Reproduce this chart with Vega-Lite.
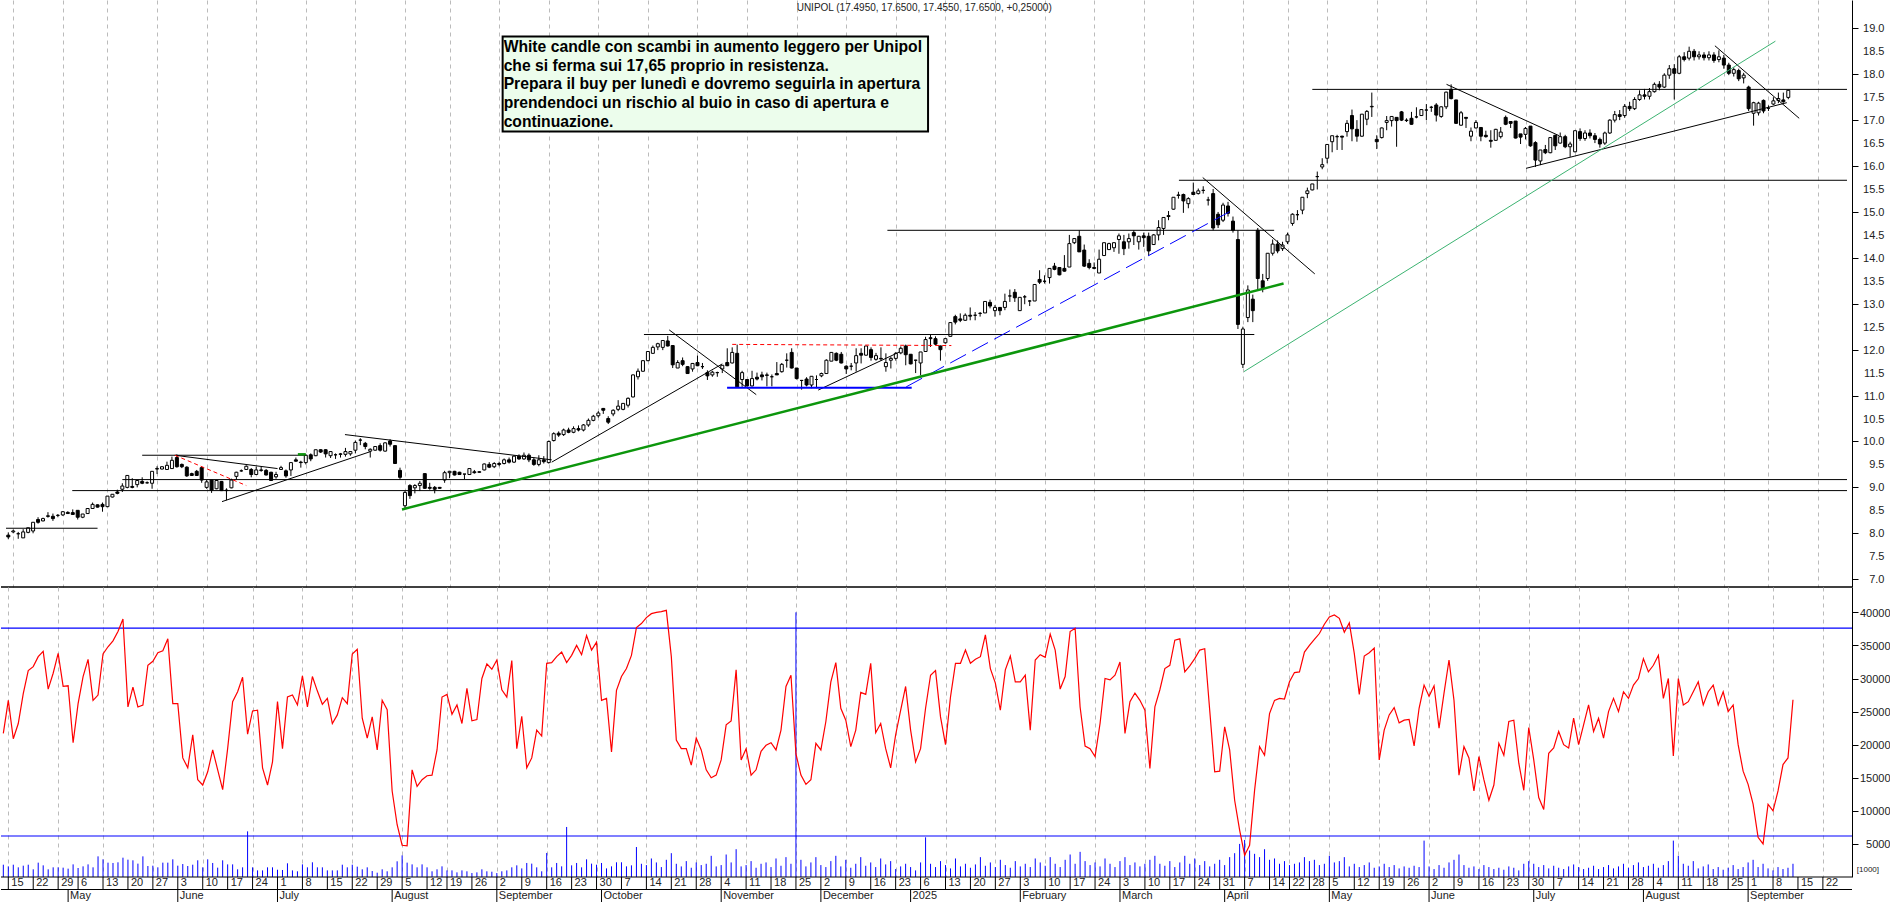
{
"$schema":"https://vega.github.io/schema/vega-lite/v6.json",
"background":"white",
"padding":0,
"spacing":0,
"bounds":"flush",
"config":{"view":{"stroke":null},"font":"Liberation Sans"},
"datasets":{
"bars":[
{"i":0,"o":7.96,"h":8.02,"l":7.87,"c":7.92,"r":21700,"v":1860},
{"i":1,"o":8.03,"h":8.08,"l":8.0,"c":8.05,"r":26700,"v":1610},
{"i":2,"o":7.99,"h":8.03,"l":7.88,"c":7.99,"r":20900,"v":1860},
{"i":3,"o":7.9,"h":8.09,"l":7.9,"c":8.03,"r":23200,"v":1460},
{"i":4,"o":8.02,"h":8.12,"l":8.0,"c":8.12,"r":27700,"v":1710},
{"i":5,"o":8.05,"h":8.24,"l":8.0,"c":8.24,"r":31200,"v":1860},
{"i":6,"o":8.3,"h":8.35,"l":8.21,"c":8.24,"r":31800,"v":1160},
{"i":7,"o":8.27,"h":8.34,"l":8.26,"c":8.32,"r":33300,"v":2170},
{"i":8,"o":8.38,"h":8.46,"l":8.34,"c":8.37,"r":34100,"v":1760},
{"i":9,"o":8.37,"h":8.43,"l":8.27,"c":8.32,"r":28400,"v":1160},
{"i":10,"o":8.39,"h":8.42,"l":8.35,"c":8.39,"r":30800,"v":1460},
{"i":11,"o":8.4,"h":8.48,"l":8.38,"c":8.47,"r":33800,"v":1460},
{"i":12,"o":8.455,"h":8.48,"l":8.42,"c":8.43,"r":28800,"v":1410},
{"i":13,"o":8.45,"h":8.52,"l":8.41,"c":8.41,"r":28900,"v":1260},
{"i":14,"o":8.5,"h":8.5,"l":8.3,"c":8.35,"r":20300,"v":1910},
{"i":15,"o":8.35,"h":8.42,"l":8.33,"c":8.42,"r":26200,"v":1360},
{"i":16,"o":8.43,"h":8.54,"l":8.42,"c":8.54,"r":30300,"v":1610},
{"i":17,"o":8.54,"h":8.67,"l":8.53,"c":8.63,"r":32900,"v":1910},
{"i":18,"o":8.62,"h":8.63,"l":8.56,"c":8.57,"r":26700,"v":1460},
{"i":19,"o":8.63,"h":8.67,"l":8.47,"c":8.58,"r":27500,"v":3120},
{"i":20,"o":8.58,"h":8.81,"l":8.57,"c":8.81,"r":33700,"v":2670},
{"i":21,"o":8.79,"h":8.85,"l":8.78,"c":8.85,"r":34800,"v":2170},
{"i":22,"o":8.9,"h":8.95,"l":8.85,"c":8.87,"r":35700,"v":2120},
{"i":23,"o":8.96,"h":9.09,"l":8.9,"c":9.03,"r":37100,"v":2220},
{"i":24,"o":9.0,"h":9.26,"l":8.98,"c":9.26,"r":39000,"v":2920},
{"i":25,"o":9.02,"h":9.2,"l":8.98,"c":9.0,"r":25700,"v":2620},
{"i":26,"o":9.06,"h":9.15,"l":9.0,"c":9.15,"r":28700,"v":2520},
{"i":27,"o":9.13,"h":9.22,"l":9.07,"c":9.09,"r":25700,"v":2020},
{"i":28,"o":9.1,"h":9.13,"l":9.08,"c":9.1,"r":26000,"v":3120},
{"i":29,"o":9.09,"h":9.35,"l":8.97,"c":9.35,"r":32000,"v":1660},
{"i":30,"o":9.4,"h":9.46,"l":9.29,"c":9.41,"r":32600,"v":1710},
{"i":31,"o":9.4,"h":9.46,"l":9.39,"c":9.45,"r":33900,"v":1460},
{"i":32,"o":9.39,"h":9.56,"l":9.39,"c":9.48,"r":34200,"v":2170},
{"i":33,"o":9.41,"h":9.67,"l":9.41,"c":9.59,"r":36000,"v":2170},
{"i":34,"o":9.65,"h":9.72,"l":9.43,"c":9.45,"r":26200,"v":2670},
{"i":35,"o":9.5,"h":9.52,"l":9.42,"c":9.45,"r":26200,"v":1710},
{"i":36,"o":9.44,"h":9.46,"l":9.23,"c":9.25,"r":18000,"v":1960},
{"i":37,"o":9.3,"h":9.32,"l":9.25,"c":9.26,"r":16500,"v":1660},
{"i":38,"o":9.35,"h":9.38,"l":9.25,"c":9.26,"r":21500,"v":1860},
{"i":39,"o":9.43,"h":9.43,"l":9.1,"c":9.16,"r":14700,"v":2520},
{"i":40,"o":9.0,"h":9.16,"l":8.97,"c":9.12,"r":13900,"v":1460},
{"i":41,"o":9.16,"h":9.16,"l":8.88,"c":8.94,"r":15900,"v":2670},
{"i":42,"o":8.97,"h":9.15,"l":8.96,"c":9.15,"r":19200,"v":2120},
{"i":43,"o":9.13,"h":9.14,"l":8.92,"c":8.93,"r":16200,"v":1410},
{"i":44,"o":8.94,"h":8.98,"l":8.72,"c":8.93,"r":13200,"v":2520},
{"i":45,"o":8.99,"h":9.19,"l":8.98,"c":9.16,"r":19400,"v":1910},
{"i":46,"o":9.24,"h":9.34,"l":9.17,"c":9.33,"r":26500,"v":1910},
{"i":47,"o":9.36,"h":9.39,"l":9.34,"c":9.36,"r":28000,"v":1160},
{"i":48,"o":9.39,"h":9.48,"l":9.38,"c":9.46,"r":30200,"v":1460},
{"i":49,"o":9.39,"h":9.42,"l":9.22,"c":9.28,"r":21600,"v":6900},
{"i":50,"o":9.28,"h":9.45,"l":9.27,"c":9.38,"r":25100,"v":1460},
{"i":51,"o":9.38,"h":9.45,"l":9.34,"c":9.37,"r":25200,"v":1000},
{"i":52,"o":9.37,"h":9.4,"l":9.26,"c":9.27,"r":16500,"v":1000},
{"i":53,"o":9.33,"h":9.34,"l":9.14,"c":9.15,"r":13900,"v":1460},
{"i":54,"o":9.23,"h":9.34,"l":9.19,"c":9.28,"r":17400,"v":1460},
{"i":55,"o":9.39,"h":9.47,"l":9.38,"c":9.43,"r":26500,"v":1100},
{"i":56,"o":9.36,"h":9.39,"l":9.21,"c":9.25,"r":19400,"v":1060},
{"i":57,"o":9.38,"h":9.54,"l":9.25,"c":9.54,"r":27200,"v":2070},
{"i":58,"o":9.6,"h":9.65,"l":9.56,"c":9.57,"r":27500,"v":1000},
{"i":59,"o":9.55,"h":9.58,"l":9.43,"c":9.54,"r":26000,"v":860},
{"i":60,"o":9.54,"h":9.72,"l":9.5,"c":9.7,"r":30400,"v":1910},
{"i":61,"o":9.71,"h":9.74,"l":9.57,"c":9.62,"r":25700,"v":1460},
{"i":62,"o":9.69,"h":9.82,"l":9.68,"c":9.82,"r":30300,"v":2220},
{"i":63,"o":9.82,"h":9.83,"l":9.75,"c":9.77,"r":28100,"v":1460},
{"i":64,"o":9.82,"h":9.83,"l":9.65,"c":9.73,"r":26100,"v":1460},
{"i":65,"o":9.69,"h":9.79,"l":9.64,"c":9.78,"r":27000,"v":1000},
{"i":66,"o":9.71,"h":9.74,"l":9.62,"c":9.71,"r":23200,"v":1000},
{"i":67,"o":9.72,"h":9.75,"l":9.65,"c":9.73,"r":24500,"v":1000},
{"i":68,"o":9.72,"h":9.86,"l":9.67,"c":9.78,"r":27100,"v":1860},
{"i":69,"o":9.73,"h":9.79,"l":9.69,"c":9.78,"r":26200,"v":1460},
{"i":70,"o":9.81,"h":10.02,"l":9.74,"c":9.98,"r":33700,"v":1860},
{"i":71,"o":10.03,"h":10.07,"l":9.92,"c":10.03,"r":34400,"v":1560},
{"i":72,"o":9.96,"h":9.99,"l":9.83,"c":9.89,"r":24000,"v":1160},
{"i":73,"o":9.79,"h":9.85,"l":9.65,"c":9.83,"r":21000,"v":1460},
{"i":74,"o":9.81,"h":9.89,"l":9.8,"c":9.89,"r":24200,"v":900},
{"i":75,"o":9.91,"h":9.96,"l":9.78,"c":9.81,"r":19200,"v":650},
{"i":76,"o":9.79,"h":9.98,"l":9.78,"c":9.97,"r":26700,"v":1160},
{"i":77,"o":10.01,"h":10.05,"l":9.89,"c":9.94,"r":25300,"v":860},
{"i":78,"o":9.91,"h":9.91,"l":9.52,"c":9.52,"r":13000,"v":1460},
{"i":79,"o":9.37,"h":9.43,"l":9.17,"c":9.22,"r":7900,"v":2370},
{"i":80,"o":8.6,"h":8.92,"l":8.54,"c":8.89,"r":4800,"v":3270},
{"i":81,"o":9.04,"h":9.07,"l":8.75,"c":8.82,"r":4700,"v":2170},
{"i":82,"o":8.99,"h":9.07,"l":8.87,"c":9.04,"r":16200,"v":1910},
{"i":83,"o":9.04,"h":9.14,"l":8.92,"c":9.09,"r":13700,"v":1460},
{"i":84,"o":9.3,"h":9.3,"l":8.97,"c":8.98,"r":14700,"v":1910},
{"i":85,"o":9.0,"h":9.1,"l":8.95,"c":8.98,"r":15300,"v":1460},
{"i":86,"o":9.0,"h":9.03,"l":8.87,"c":8.96,"r":15400,"v":860},
{"i":87,"o":9.0,"h":9.01,"l":8.97,"c":8.98,"r":19200,"v":1160},
{"i":88,"o":9.16,"h":9.36,"l":9.1,"c":9.32,"r":27200,"v":1610},
{"i":89,"o":9.32,"h":9.36,"l":9.2,"c":9.35,"r":27600,"v":1000},
{"i":90,"o":9.35,"h":9.36,"l":9.26,"c":9.27,"r":24600,"v":1000},
{"i":91,"o":9.33,"h":9.34,"l":9.27,"c":9.28,"r":26000,"v":700},
{"i":92,"o":9.29,"h":9.29,"l":9.18,"c":9.29,"r":23200,"v":1000},
{"i":93,"o":9.28,"h":9.41,"l":9.28,"c":9.41,"r":28500,"v":860},
{"i":94,"o":9.34,"h":9.38,"l":9.3,"c":9.32,"r":23600,"v":600},
{"i":95,"o":9.34,"h":9.35,"l":9.32,"c":9.33,"r":23800,"v":700},
{"i":96,"o":9.38,"h":9.52,"l":9.37,"c":9.51,"r":30000,"v":1160},
{"i":97,"o":9.5,"h":9.55,"l":9.42,"c":9.44,"r":32200,"v":860},
{"i":98,"o":9.45,"h":9.55,"l":9.42,"c":9.52,"r":31400,"v":800},
{"i":99,"o":9.52,"h":9.56,"l":9.46,"c":9.5,"r":32800,"v":600},
{"i":100,"o":9.52,"h":9.63,"l":9.5,"c":9.6,"r":28300,"v":860},
{"i":101,"o":9.6,"h":9.65,"l":9.52,"c":9.55,"r":27200,"v":1000},
{"i":102,"o":9.55,"h":9.7,"l":9.53,"c":9.68,"r":32700,"v":1460},
{"i":103,"o":9.68,"h":9.72,"l":9.6,"c":9.62,"r":19400,"v":1760},
{"i":104,"o":9.62,"h":9.76,"l":9.6,"c":9.7,"r":24300,"v":1300},
{"i":105,"o":9.7,"h":9.74,"l":9.55,"c":9.6,"r":16500,"v":2120},
{"i":106,"o":9.6,"h":9.65,"l":9.47,"c":9.5,"r":18000,"v":2020},
{"i":107,"o":9.5,"h":9.7,"l":9.46,"c":9.6,"r":22200,"v":1460},
{"i":108,"o":9.6,"h":9.68,"l":9.52,"c":9.56,"r":21300,"v":860},
{"i":109,"o":9.54,"h":10.02,"l":9.52,"c":10.0,"r":32300,"v":3630},
{"i":110,"o":10.02,"h":10.2,"l":10.0,"c":10.17,"r":32400,"v":1460},
{"i":111,"o":10.18,"h":10.22,"l":10.1,"c":10.14,"r":33300,"v":2120},
{"i":112,"o":10.15,"h":10.28,"l":10.12,"c":10.25,"r":34000,"v":1610},
{"i":113,"o":10.25,"h":10.3,"l":10.18,"c":10.2,"r":32400,"v":7560},
{"i":114,"o":10.2,"h":10.33,"l":10.18,"c":10.28,"r":33500,"v":1760},
{"i":115,"o":10.28,"h":10.35,"l":10.22,"c":10.25,"r":35000,"v":2120},
{"i":116,"o":10.25,"h":10.38,"l":10.22,"c":10.36,"r":33600,"v":1460},
{"i":117,"o":10.36,"h":10.5,"l":10.32,"c":10.46,"r":36500,"v":2670},
{"i":118,"o":10.46,"h":10.58,"l":10.44,"c":10.55,"r":34300,"v":2020},
{"i":119,"o":10.56,"h":10.66,"l":10.52,"c":10.62,"r":35500,"v":1860},
{"i":120,"o":10.72,"h":10.73,"l":10.6,"c":10.68,"r":26700,"v":2120},
{"i":121,"o":10.5,"h":10.55,"l":10.38,"c":10.42,"r":27000,"v":1300},
{"i":122,"o":10.6,"h":10.7,"l":10.55,"c":10.68,"r":18900,"v":1610},
{"i":123,"o":10.7,"h":10.9,"l":10.66,"c":10.77,"r":28200,"v":2220},
{"i":124,"o":10.7,"h":10.83,"l":10.68,"c":10.83,"r":30300,"v":2220},
{"i":125,"o":10.79,"h":10.96,"l":10.74,"c":10.94,"r":31500,"v":1610},
{"i":126,"o":10.97,"h":11.46,"l":10.96,"c":11.45,"r":33500,"v":1760},
{"i":127,"o":11.41,"h":11.59,"l":11.35,"c":11.53,"r":37700,"v":4530},
{"i":128,"o":11.53,"h":11.77,"l":11.52,"c":11.76,"r":38300,"v":2000},
{"i":129,"o":11.76,"h":11.96,"l":11.75,"c":11.96,"r":39200,"v":1800},
{"i":130,"o":11.92,"h":12.09,"l":11.91,"c":12.05,"r":39800,"v":2800},
{"i":131,"o":12.06,"h":12.15,"l":11.99,"c":12.13,"r":40000,"v":2200},
{"i":132,"o":12.05,"h":12.2,"l":11.99,"c":12.2,"r":40100,"v":1500},
{"i":133,"o":12.19,"h":12.3,"l":12.07,"c":12.08,"r":40300,"v":2600},
{"i":134,"o":12.09,"h":12.09,"l":11.6,"c":11.67,"r":33300,"v":3600},
{"i":135,"o":11.6,"h":11.77,"l":11.6,"c":11.72,"r":20700,"v":2000},
{"i":136,"o":11.76,"h":11.83,"l":11.64,"c":11.68,"r":19400,"v":1600},
{"i":137,"o":11.63,"h":11.64,"l":11.47,"c":11.48,"r":19400,"v":2400},
{"i":138,"o":11.58,"h":11.71,"l":11.52,"c":11.7,"r":16900,"v":1400},
{"i":139,"o":11.72,"h":11.87,"l":11.64,"c":11.65,"r":21000,"v":2200},
{"i":140,"o":11.63,"h":11.71,"l":11.58,"c":11.63,"r":19200,"v":1800},
{"i":141,"o":11.5,"h":11.55,"l":11.34,"c":11.43,"r":16200,"v":2000},
{"i":142,"o":11.45,"h":11.54,"l":11.41,"c":11.51,"r":15000,"v":3200},
{"i":143,"o":11.5,"h":11.52,"l":11.41,"c":11.5,"r":15400,"v":1600},
{"i":144,"o":11.58,"h":11.66,"l":11.49,"c":11.66,"r":17700,"v":1800},
{"i":145,"o":11.72,"h":12.03,"l":11.64,"c":11.65,"r":23000,"v":3400},
{"i":146,"o":11.71,"h":12.05,"l":11.7,"c":11.94,"r":23600,"v":2200},
{"i":147,"o":11.92,"h":12.11,"l":11.19,"c":11.19,"r":31300,"v":4200},
{"i":148,"o":11.35,"h":11.54,"l":11.19,"c":11.5,"r":17700,"v":1600},
{"i":149,"o":11.35,"h":11.35,"l":11.2,"c":11.21,"r":19400,"v":1800},
{"i":150,"o":11.21,"h":11.54,"l":11.2,"c":11.37,"r":15400,"v":2400},
{"i":151,"o":11.4,"h":11.5,"l":11.33,"c":11.36,"r":16200,"v":1400},
{"i":152,"o":11.45,"h":11.52,"l":11.33,"c":11.41,"r":19000,"v":2000},
{"i":153,"o":11.45,"h":11.5,"l":11.2,"c":11.44,"r":19900,"v":2200},
{"i":154,"o":11.41,"h":11.46,"l":11.2,"c":11.41,"r":20300,"v":1500},
{"i":155,"o":11.48,"h":11.73,"l":11.45,"c":11.45,"r":19200,"v":2800},
{"i":156,"o":11.52,"h":11.71,"l":11.5,"c":11.68,"r":22200,"v":1700},
{"i":157,"o":11.77,"h":11.92,"l":11.61,"c":11.77,"r":28800,"v":3000},
{"i":158,"o":11.94,"h":12.03,"l":11.59,"c":11.6,"r":30500,"v":2000},
{"i":159,"o":11.6,"h":11.6,"l":11.35,"c":11.37,"r":18600,"v":40000},
{"i":160,"o":11.33,"h":11.34,"l":11.13,"c":11.33,"r":15400,"v":2600},
{"i":161,"o":11.36,"h":11.4,"l":11.2,"c":11.23,"r":14000,"v":1600},
{"i":162,"o":11.23,"h":11.42,"l":11.16,"c":11.42,"r":14700,"v":2200},
{"i":163,"o":11.35,"h":11.44,"l":11.16,"c":11.35,"r":20200,"v":3000},
{"i":164,"o":11.43,"h":11.5,"l":11.4,"c":11.48,"r":19200,"v":1800},
{"i":165,"o":11.48,"h":11.79,"l":11.47,"c":11.77,"r":23500,"v":1500},
{"i":166,"o":11.75,"h":11.94,"l":11.75,"c":11.94,"r":29500,"v":2400},
{"i":167,"o":11.92,"h":11.94,"l":11.75,"c":11.77,"r":32400,"v":3200},
{"i":168,"o":11.9,"h":11.95,"l":11.7,"c":11.71,"r":25500,"v":1600},
{"i":169,"o":11.64,"h":11.66,"l":11.47,"c":11.58,"r":23700,"v":2600},
{"i":170,"o":11.64,"h":11.71,"l":11.55,"c":11.64,"r":19700,"v":1400},
{"i":171,"o":11.71,"h":12.03,"l":11.52,"c":11.87,"r":22200,"v":2000},
{"i":172,"o":11.92,"h":12.03,"l":11.7,"c":11.88,"r":27900,"v":3000},
{"i":173,"o":11.88,"h":12.08,"l":11.87,"c":12.08,"r":27600,"v":1700},
{"i":174,"o":12.0,"h":12.05,"l":11.76,"c":11.83,"r":32300,"v":2200},
{"i":175,"o":11.79,"h":11.93,"l":11.76,"c":11.87,"r":21800,"v":1500},
{"i":176,"o":11.81,"h":12.05,"l":11.76,"c":11.8,"r":23200,"v":2800},
{"i":177,"o":11.63,"h":11.92,"l":11.52,"c":11.72,"r":19400,"v":1900},
{"i":178,"o":11.77,"h":11.85,"l":11.59,"c":11.81,"r":16500,"v":2400},
{"i":179,"o":11.81,"h":11.95,"l":11.76,"c":11.92,"r":21500,"v":1200},
{"i":180,"o":11.93,"h":12.07,"l":11.9,"c":12.03,"r":25200,"v":1600},
{"i":181,"o":12.08,"h":12.11,"l":11.66,"c":11.89,"r":28800,"v":2000},
{"i":182,"o":11.9,"h":11.9,"l":11.68,"c":11.69,"r":22200,"v":1500},
{"i":183,"o":11.77,"h":11.78,"l":11.49,"c":11.77,"r":17400,"v":1000},
{"i":184,"o":11.71,"h":11.95,"l":11.44,"c":11.95,"r":19400,"v":2200},
{"i":185,"o":11.96,"h":12.28,"l":11.95,"c":12.22,"r":25500,"v":6000},
{"i":186,"o":12.26,"h":12.32,"l":12.06,"c":12.24,"r":30500,"v":2000},
{"i":187,"o":12.24,"h":12.29,"l":12.1,"c":12.12,"r":31200,"v":1500},
{"i":188,"o":12.08,"h":12.09,"l":11.76,"c":12.0,"r":24200,"v":2400},
{"i":189,"o":12.15,"h":12.24,"l":12.13,"c":12.24,"r":20000,"v":1800},
{"i":190,"o":12.29,"h":12.6,"l":12.29,"c":12.59,"r":27200,"v":1300},
{"i":191,"o":12.72,"h":12.76,"l":12.55,"c":12.6,"r":32300,"v":2800},
{"i":192,"o":12.67,"h":12.79,"l":12.6,"c":12.64,"r":32300,"v":1600},
{"i":193,"o":12.64,"h":12.79,"l":12.63,"c":12.75,"r":34300,"v":2000},
{"i":194,"o":12.75,"h":12.92,"l":12.64,"c":12.73,"r":32300,"v":1400},
{"i":195,"o":12.75,"h":12.82,"l":12.64,"c":12.75,"r":32900,"v":1900},
{"i":196,"o":12.79,"h":12.82,"l":12.72,"c":12.79,"r":33300,"v":3000},
{"i":197,"o":12.8,"h":13.05,"l":12.8,"c":13.05,"r":36600,"v":1700},
{"i":198,"o":13.03,"h":13.09,"l":12.9,"c":12.95,"r":31500,"v":2200},
{"i":199,"o":12.85,"h":12.97,"l":12.72,"c":12.92,"r":29300,"v":1500},
{"i":200,"o":12.92,"h":12.93,"l":12.75,"c":12.85,"r":25200,"v":2600},
{"i":201,"o":12.92,"h":13.22,"l":12.86,"c":13.05,"r":31300,"v":1800},
{"i":202,"o":13.17,"h":13.31,"l":13.04,"c":13.17,"r":33400,"v":1400},
{"i":203,"o":13.25,"h":13.32,"l":13.04,"c":13.13,"r":29500,"v":2400},
{"i":204,"o":12.85,"h":13.14,"l":12.85,"c":13.14,"r":29500,"v":1600},
{"i":205,"o":13.15,"h":13.19,"l":12.99,"c":13.15,"r":30500,"v":2000},
{"i":206,"o":13.06,"h":13.08,"l":12.95,"c":13.06,"r":22200,"v":1500},
{"i":207,"o":13.06,"h":13.43,"l":13.06,"c":13.42,"r":32800,"v":2800},
{"i":208,"o":13.53,"h":13.73,"l":13.43,"c":13.47,"r":33600,"v":2200},
{"i":209,"o":13.49,"h":13.62,"l":13.44,"c":13.49,"r":33200,"v":1700},
{"i":210,"o":13.57,"h":13.77,"l":13.44,"c":13.77,"r":36700,"v":3000},
{"i":211,"o":13.82,"h":13.89,"l":13.73,"c":13.75,"r":34300,"v":2000},
{"i":212,"o":13.79,"h":13.8,"l":13.62,"c":13.63,"r":28400,"v":1500},
{"i":213,"o":13.77,"h":14.06,"l":13.7,"c":13.71,"r":30300,"v":2600},
{"i":214,"o":13.8,"h":14.5,"l":13.8,"c":14.31,"r":37100,"v":3400},
{"i":215,"o":14.33,"h":14.43,"l":14.3,"c":14.42,"r":37600,"v":2000},
{"i":216,"o":14.47,"h":14.6,"l":14.13,"c":14.13,"r":25700,"v":3800},
{"i":217,"o":14.17,"h":14.29,"l":13.8,"c":13.82,"r":19800,"v":2400},
{"i":218,"o":13.88,"h":13.97,"l":13.75,"c":13.79,"r":19400,"v":1800},
{"i":219,"o":13.79,"h":13.9,"l":13.75,"c":13.77,"r":18200,"v":2200},
{"i":220,"o":13.67,"h":14.18,"l":13.67,"c":13.97,"r":23200,"v":1600},
{"i":221,"o":14.05,"h":14.33,"l":14.04,"c":14.33,"r":30000,"v":2800},
{"i":222,"o":14.18,"h":14.33,"l":14.17,"c":14.31,"r":29800,"v":2000},
{"i":223,"o":14.22,"h":14.34,"l":14.13,"c":14.33,"r":30500,"v":1500},
{"i":224,"o":14.4,"h":14.53,"l":14.09,"c":14.48,"r":32500,"v":2400},
{"i":225,"o":14.35,"h":14.5,"l":14.06,"c":14.2,"r":21700,"v":3000},
{"i":226,"o":14.35,"h":14.53,"l":14.2,"c":14.42,"r":26500,"v":1800},
{"i":227,"o":14.55,"h":14.6,"l":14.28,"c":14.48,"r":27800,"v":2200},
{"i":228,"o":14.35,"h":14.48,"l":14.18,"c":14.47,"r":26700,"v":1600},
{"i":229,"o":14.48,"h":14.55,"l":14.24,"c":14.44,"r":25200,"v":2000},
{"i":230,"o":14.47,"h":14.55,"l":14.05,"c":14.15,"r":16400,"v":2600},
{"i":231,"o":14.29,"h":14.52,"l":14.28,"c":14.5,"r":25700,"v":3200},
{"i":232,"o":14.5,"h":14.82,"l":14.38,"c":14.66,"r":28300,"v":2000},
{"i":233,"o":14.64,"h":14.88,"l":14.5,"c":14.88,"r":31500,"v":1700},
{"i":234,"o":14.9,"h":15.02,"l":14.82,"c":14.92,"r":32000,"v":2400},
{"i":235,"o":15.06,"h":15.32,"l":15.05,"c":15.32,"r":35800,"v":1500},
{"i":236,"o":15.36,"h":15.44,"l":15.29,"c":15.37,"r":36000,"v":2200},
{"i":237,"o":15.38,"h":15.4,"l":14.98,"c":15.24,"r":31000,"v":3200},
{"i":238,"o":15.18,"h":15.32,"l":15.08,"c":15.29,"r":31900,"v":2000},
{"i":239,"o":15.43,"h":15.64,"l":15.38,"c":15.38,"r":33000,"v":2800},
{"i":240,"o":15.4,"h":15.51,"l":15.38,"c":15.46,"r":34300,"v":1800},
{"i":241,"o":15.47,"h":15.56,"l":15.4,"c":15.47,"r":34500,"v":2400},
{"i":242,"o":15.26,"h":15.33,"l":15.14,"c":15.26,"r":25200,"v":1600},
{"i":243,"o":15.4,"h":15.5,"l":14.6,"c":14.65,"r":15900,"v":2000},
{"i":244,"o":14.95,"h":15.0,"l":14.65,"c":14.72,"r":16000,"v":2600},
{"i":245,"o":14.82,"h":15.2,"l":14.78,"c":15.15,"r":22700,"v":1800},
{"i":246,"o":15.13,"h":15.22,"l":14.9,"c":14.97,"r":19200,"v":3000},
{"i":247,"o":14.8,"h":14.9,"l":14.55,"c":14.6,"r":11600,"v":3600},
{"i":248,"o":14.4,"h":14.6,"l":12.45,"c":12.55,"r":7100,"v":5000},
{"i":249,"o":11.68,"h":12.5,"l":11.6,"c":12.45,"r":3300,"v":5600},
{"i":250,"o":12.7,"h":13.4,"l":12.6,"c":13.3,"r":4800,"v":4000},
{"i":251,"o":13.1,"h":13.2,"l":12.6,"c":12.85,"r":13100,"v":3500},
{"i":252,"o":14.6,"h":14.65,"l":13.3,"c":13.55,"r":19700,"v":3000},
{"i":253,"o":13.5,"h":13.65,"l":13.25,"c":13.35,"r":18400,"v":4200},
{"i":254,"o":13.55,"h":14.1,"l":13.5,"c":14.1,"r":24700,"v":2600},
{"i":255,"o":14.1,"h":14.4,"l":14.05,"c":14.3,"r":26700,"v":2800},
{"i":256,"o":14.3,"h":14.38,"l":14.1,"c":14.15,"r":27000,"v":2000},
{"i":257,"o":14.2,"h":14.35,"l":14.15,"c":14.28,"r":26900,"v":2400},
{"i":258,"o":14.35,"h":14.55,"l":14.3,"c":14.5,"r":29500,"v":1800},
{"i":259,"o":14.75,"h":14.97,"l":14.7,"c":14.95,"r":30900,"v":2000},
{"i":260,"o":14.94,"h":15.04,"l":14.82,"c":14.94,"r":31000,"v":2200},
{"i":261,"o":15.04,"h":15.32,"l":14.95,"c":15.32,"r":34000,"v":3000},
{"i":262,"o":15.4,"h":15.53,"l":15.3,"c":15.46,"r":35000,"v":2400},
{"i":263,"o":15.48,"h":15.61,"l":15.47,"c":15.61,"r":35900,"v":2600},
{"i":264,"o":15.77,"h":15.88,"l":15.49,"c":15.77,"r":36800,"v":1800},
{"i":265,"o":15.98,"h":16.17,"l":15.93,"c":16.03,"r":38200,"v":2000},
{"i":266,"o":16.17,"h":16.47,"l":16.06,"c":16.47,"r":39300,"v":3200},
{"i":267,"o":16.53,"h":16.66,"l":16.3,"c":16.66,"r":39600,"v":2200},
{"i":268,"o":16.64,"h":16.68,"l":16.35,"c":16.64,"r":39100,"v":2400},
{"i":269,"o":16.65,"h":16.66,"l":16.35,"c":16.63,"r":37000,"v":3000},
{"i":270,"o":16.75,"h":17.0,"l":16.64,"c":16.93,"r":38400,"v":1600},
{"i":271,"o":17.1,"h":17.23,"l":16.54,"c":16.81,"r":33800,"v":2000},
{"i":272,"o":16.8,"h":17.0,"l":16.53,"c":16.65,"r":27600,"v":1500},
{"i":273,"o":16.65,"h":17.13,"l":16.64,"c":17.13,"r":33400,"v":1800},
{"i":274,"o":17.02,"h":17.22,"l":16.89,"c":17.19,"r":33900,"v":2200},
{"i":275,"o":17.29,"h":17.6,"l":17.07,"c":17.3,"r":34600,"v":1400},
{"i":276,"o":16.58,"h":16.67,"l":16.37,"c":16.53,"r":17700,"v":1600},
{"i":277,"o":16.62,"h":16.84,"l":16.6,"c":16.83,"r":22200,"v":2000},
{"i":278,"o":16.95,"h":17.09,"l":16.78,"c":16.99,"r":24500,"v":1500},
{"i":279,"o":16.99,"h":17.08,"l":16.86,"c":17.08,"r":25600,"v":1800},
{"i":280,"o":17.06,"h":17.06,"l":16.42,"c":16.99,"r":23300,"v":1300},
{"i":281,"o":17.18,"h":17.2,"l":16.98,"c":17.0,"r":23700,"v":1600},
{"i":282,"o":17.0,"h":17.04,"l":16.96,"c":16.99,"r":23800,"v":1400},
{"i":283,"o":17.04,"h":17.18,"l":16.9,"c":16.91,"r":19800,"v":1700},
{"i":284,"o":17.07,"h":17.28,"l":17.04,"c":17.07,"r":25500,"v":1500},
{"i":285,"o":17.1,"h":17.24,"l":17.09,"c":17.23,"r":29000,"v":5500},
{"i":286,"o":17.22,"h":17.35,"l":17.0,"c":17.22,"r":27300,"v":1600},
{"i":287,"o":17.28,"h":17.31,"l":17.18,"c":17.28,"r":28900,"v":1200},
{"i":288,"o":17.33,"h":17.37,"l":16.97,"c":17.11,"r":22500,"v":1800},
{"i":289,"o":17.08,"h":17.3,"l":17.05,"c":17.29,"r":27800,"v":1400},
{"i":290,"o":17.29,"h":17.62,"l":17.24,"c":17.61,"r":32800,"v":2200},
{"i":291,"o":17.67,"h":17.78,"l":17.45,"c":17.47,"r":26700,"v":2600},
{"i":292,"o":17.44,"h":17.44,"l":16.92,"c":16.93,"r":15400,"v":3400},
{"i":293,"o":16.89,"h":17.2,"l":16.88,"c":17.16,"r":19700,"v":1800},
{"i":294,"o":17.06,"h":17.07,"l":16.83,"c":17.04,"r":18000,"v":1400},
{"i":295,"o":16.65,"h":16.84,"l":16.54,"c":16.76,"r":13000,"v":1600},
{"i":296,"o":16.83,"h":17.0,"l":16.82,"c":16.95,"r":18200,"v":1200},
{"i":297,"o":16.84,"h":16.84,"l":16.54,"c":16.65,"r":14700,"v":1800},
{"i":298,"o":16.67,"h":16.77,"l":16.62,"c":16.64,"r":11600,"v":1500},
{"i":299,"o":16.56,"h":16.78,"l":16.4,"c":16.54,"r":13900,"v":1200},
{"i":300,"o":16.56,"h":16.81,"l":16.55,"c":16.8,"r":20200,"v":1400},
{"i":301,"o":16.64,"h":16.85,"l":16.6,"c":16.74,"r":18400,"v":1100},
{"i":302,"o":17.06,"h":17.1,"l":16.89,"c":16.91,"r":23500,"v":1600},
{"i":303,"o":16.97,"h":16.98,"l":16.83,"c":16.93,"r":23700,"v":1400},
{"i":304,"o":16.98,"h":16.98,"l":16.6,"c":16.61,"r":17200,"v":1000},
{"i":305,"o":16.7,"h":16.7,"l":16.48,"c":16.63,"r":13100,"v":2000},
{"i":306,"o":16.69,"h":16.85,"l":16.58,"c":16.82,"r":22600,"v":2400},
{"i":307,"o":16.87,"h":16.87,"l":16.42,"c":16.44,"r":17700,"v":2000},
{"i":308,"o":16.51,"h":16.54,"l":15.98,"c":16.13,"r":12000,"v":1500},
{"i":309,"o":16.11,"h":16.35,"l":16.02,"c":16.35,"r":10200,"v":1800},
{"i":310,"o":16.36,"h":16.46,"l":16.26,"c":16.29,"r":18700,"v":1300},
{"i":311,"o":16.29,"h":16.62,"l":16.28,"c":16.62,"r":19500,"v":1700},
{"i":312,"o":16.67,"h":16.68,"l":16.35,"c":16.44,"r":22000,"v":1400},
{"i":313,"o":16.5,"h":16.73,"l":16.49,"c":16.64,"r":20000,"v":1200},
{"i":314,"o":16.64,"h":16.68,"l":16.39,"c":16.42,"r":19500,"v":1600},
{"i":315,"o":16.42,"h":16.53,"l":16.2,"c":16.48,"r":24000,"v":1900},
{"i":316,"o":16.31,"h":16.77,"l":16.3,"c":16.77,"r":20000,"v":1500},
{"i":317,"o":16.75,"h":16.82,"l":16.55,"c":16.6,"r":23000,"v":1200},
{"i":318,"o":16.6,"h":16.78,"l":16.55,"c":16.72,"r":26000,"v":1400},
{"i":319,"o":16.72,"h":16.8,"l":16.6,"c":16.66,"r":22000,"v":1700},
{"i":320,"o":16.66,"h":16.72,"l":16.5,"c":16.58,"r":24000,"v":1200},
{"i":321,"o":16.58,"h":16.62,"l":16.4,"c":16.48,"r":21000,"v":1500},
{"i":322,"o":16.5,"h":16.75,"l":16.46,"c":16.72,"r":25000,"v":1800},
{"i":323,"o":16.72,"h":17.02,"l":16.7,"c":17.0,"r":27000,"v":1300},
{"i":324,"o":17.0,"h":17.2,"l":16.95,"c":17.12,"r":25000,"v":1600},
{"i":325,"o":17.12,"h":17.22,"l":17.0,"c":17.08,"r":28000,"v":2000},
{"i":326,"o":17.1,"h":17.35,"l":17.05,"c":17.3,"r":27000,"v":1400},
{"i":327,"o":17.3,"h":17.4,"l":17.2,"c":17.25,"r":29000,"v":1800},
{"i":328,"o":17.25,"h":17.5,"l":17.22,"c":17.45,"r":30000,"v":2200},
{"i":329,"o":17.45,"h":17.65,"l":17.42,"c":17.55,"r":33000,"v":1500},
{"i":330,"o":17.55,"h":17.68,"l":17.45,"c":17.52,"r":31000,"v":1700},
{"i":331,"o":17.52,"h":17.7,"l":17.45,"c":17.62,"r":32000,"v":2000},
{"i":332,"o":17.62,"h":17.82,"l":17.6,"c":17.78,"r":33500,"v":1400},
{"i":333,"o":17.78,"h":17.85,"l":17.65,"c":17.72,"r":27000,"v":1800},
{"i":334,"o":17.72,"h":18.02,"l":17.7,"c":17.98,"r":30000,"v":2400},
{"i":335,"o":17.98,"h":18.2,"l":17.9,"c":18.12,"r":18300,"v":5500},
{"i":336,"o":18.12,"h":18.22,"l":17.45,"c":18.02,"r":30000,"v":3200},
{"i":337,"o":18.02,"h":18.42,"l":18.0,"c":18.38,"r":26000,"v":2000},
{"i":338,"o":18.38,"h":18.48,"l":18.28,"c":18.32,"r":26500,"v":1700},
{"i":339,"o":18.35,"h":18.6,"l":18.3,"c":18.5,"r":28000,"v":2400},
{"i":340,"o":18.5,"h":18.55,"l":18.3,"c":18.38,"r":29500,"v":1300},
{"i":341,"o":18.38,"h":18.5,"l":18.32,"c":18.42,"r":26000,"v":1600},
{"i":342,"o":18.42,"h":18.48,"l":18.3,"c":18.36,"r":28000,"v":1900},
{"i":343,"o":18.36,"h":18.5,"l":18.3,"c":18.42,"r":29000,"v":1200},
{"i":344,"o":18.42,"h":18.48,"l":18.25,"c":18.3,"r":26000,"v":1500},
{"i":345,"o":18.32,"h":18.52,"l":18.26,"c":18.38,"r":28000,"v":1100},
{"i":346,"o":18.35,"h":18.42,"l":18.12,"c":18.2,"r":25000,"v":1400},
{"i":347,"o":18.2,"h":18.25,"l":17.98,"c":18.02,"r":26000,"v":1800},
{"i":348,"o":18.02,"h":18.15,"l":17.95,"c":18.1,"r":20000,"v":1200},
{"i":349,"o":18.08,"h":18.12,"l":17.85,"c":17.9,"r":16000,"v":1500},
{"i":350,"o":17.92,"h":18.03,"l":17.8,"c":17.98,"r":14000,"v":2200},
{"i":351,"o":17.72,"h":17.75,"l":17.2,"c":17.25,"r":11000,"v":2600},
{"i":352,"o":17.15,"h":17.4,"l":16.88,"c":17.38,"r":6000,"v":1500},
{"i":353,"o":17.16,"h":17.4,"l":17.1,"c":17.37,"r":5000,"v":2000},
{"i":354,"o":17.43,"h":17.45,"l":17.15,"c":17.2,"r":11000,"v":1300},
{"i":355,"o":17.26,"h":17.32,"l":17.2,"c":17.26,"r":10000,"v":1000},
{"i":356,"o":17.35,"h":17.5,"l":17.33,"c":17.42,"r":13000,"v":1500},
{"i":357,"o":17.43,"h":17.6,"l":17.37,"c":17.47,"r":17000,"v":1200},
{"i":358,"o":17.44,"h":17.6,"l":17.38,"c":17.4,"r":18000,"v":1400},
{"i":359,"o":17.495,"h":17.65,"l":17.455,"c":17.65,"r":26800,"v":2000}
],
"lines":[
{"kind":"black","i1":-0.46,"p1":8.11,"i2":18,"p2":8.11},
{"kind":"black","i1":12.9,"p1":8.93,"i2":370.84,"p2":8.93},
{"kind":"black","i1":23,"p1":9.17,"i2":370.84,"p2":9.17},
{"kind":"black","i1":27,"p1":9.7,"i2":60.1,"p2":9.7},
{"kind":"black","i1":128.2,"p1":12.33,"i2":251.3,"p2":12.33},
{"kind":"black","i1":177.3,"p1":14.6,"i2":255.3,"p2":14.6},
{"kind":"black","i1":236.1,"p1":15.69,"i2":370.84,"p2":15.69},
{"kind":"black","i1":263,"p1":17.67,"i2":370.84,"p2":17.67},
{"kind":"black","i1":43.1,"p1":8.69,"i2":73.06,"p2":9.78},
{"kind":"black","i1":33.6,"p1":9.7,"i2":54.3,"p2":9.41},
{"kind":"black","i1":67.9,"p1":10.15,"i2":109.6,"p2":9.6},
{"kind":"black","i1":109.6,"p1":9.55,"i2":144,"p2":11.69},
{"kind":"black","i1":133.3,"p1":12.43,"i2":150.85,"p2":11.02},
{"kind":"black","i1":163.35,"p1":11.12,"i2":179.74,"p2":11.95},
{"kind":"black","i1":240.9,"p1":15.75,"i2":263.5,"p2":13.65},
{"kind":"black","i1":290.07,"p1":17.78,"i2":312.8,"p2":16.66},
{"kind":"black","i1":306.1,"p1":15.95,"i2":358.7,"p2":17.38},
{"kind":"black","i1":344.2,"p1":18.62,"i2":361.2,"p2":17.04},
{"kind":"reddash","i1":33.6,"p1":9.7,"i2":48,"p2":9.04},
{"kind":"reddash","i1":146,"p1":12.115,"i2":190.2,"p2":12.09},
{"kind":"bluethick","i1":144.97,"p1":11.17,"i2":182.2,"p2":11.17},
{"kind":"bluedash","i1":181.1,"p1":11.19,"i2":247.6,"p2":15.08},
{"kind":"greenthick","i1":79.4,"p1":8.52,"i2":257.2,"p2":13.44},
{"kind":"greenthick","i1":58.4,"p1":9.72,"i2":60,"p2":9.72},
{"kind":"greenthin","i1":249.2,"p1":11.52,"i2":356.4,"p2":18.72}
],
"pricelabels":[
{"i":378.4,"p":19,"t":"19.0"},{"i":378.4,"p":18.5,"t":"18.5"},{"i":378.4,"p":18,"t":"18.0"},{"i":378.4,"p":17.5,"t":"17.5"},{"i":378.4,"p":17,"t":"17.0"},{"i":378.4,"p":16.5,"t":"16.5"},{"i":378.4,"p":16,"t":"16.0"},{"i":378.4,"p":15.5,"t":"15.5"},{"i":378.4,"p":15,"t":"15.0"},{"i":378.4,"p":14.5,"t":"14.5"},{"i":378.4,"p":14,"t":"14.0"},{"i":378.4,"p":13.5,"t":"13.5"},{"i":378.4,"p":13,"t":"13.0"},{"i":378.4,"p":12.5,"t":"12.5"},{"i":378.4,"p":12,"t":"12.0"},{"i":378.4,"p":11.5,"t":"11.5"},{"i":378.4,"p":11,"t":"11.0"},{"i":378.4,"p":10.5,"t":"10.5"},{"i":378.4,"p":10,"t":"10.0"},{"i":378.4,"p":9.5,"t":"9.5"},{"i":378.4,"p":9,"t":"9.0"},{"i":378.4,"p":8.5,"t":"8.5"},{"i":378.4,"p":8,"t":"8.0"},{"i":378.4,"p":7.5,"t":"7.5"},{"i":378.4,"p":7,"t":"7.0"}
],
"weeks":[
{"i":1,"d":"15"},{"i":6,"d":"22"},{"i":11,"d":"29"},{"i":15,"d":"6"},{"i":20,"d":"13"},{"i":25,"d":"20"},{"i":30,"d":"27"},{"i":35,"d":"3"},{"i":40,"d":"10"},{"i":45,"d":"17"},{"i":50,"d":"24"},{"i":55,"d":"1"},{"i":60,"d":"8"},{"i":65,"d":"15"},{"i":70,"d":"22"},{"i":75,"d":"29"},{"i":80,"d":"5"},{"i":85,"d":"12"},{"i":89,"d":"19"},{"i":94,"d":"26"},{"i":99,"d":"2"},{"i":104,"d":"9"},{"i":109,"d":"16"},{"i":114,"d":"23"},{"i":119,"d":"30"},{"i":124,"d":"7"},{"i":129,"d":"14"},{"i":134,"d":"21"},{"i":139,"d":"28"},{"i":144,"d":"4"},{"i":149,"d":"11"},{"i":154,"d":"18"},{"i":159,"d":"25"},{"i":164,"d":"2"},{"i":169,"d":"9"},{"i":174,"d":"16"},{"i":179,"d":"23"},{"i":184,"d":"6"},{"i":189,"d":"13"},{"i":194,"d":"20"},{"i":199,"d":"27"},{"i":204,"d":"3"},{"i":209,"d":"10"},{"i":214,"d":"17"},{"i":219,"d":"24"},{"i":224,"d":"3"},{"i":229,"d":"10"},{"i":234,"d":"17"},{"i":239,"d":"24"},{"i":244,"d":"31"},{"i":249,"d":"7"},{"i":254,"d":"14"},{"i":258,"d":"22"},{"i":262,"d":"28"},{"i":266,"d":"5"},{"i":271,"d":"12"},{"i":276,"d":"19"},{"i":281,"d":"26"},{"i":286,"d":"2"},{"i":291,"d":"9"},{"i":296,"d":"16"},{"i":301,"d":"23"},{"i":306,"d":"30"},{"i":311,"d":"7"},{"i":316,"d":"14"},{"i":321,"d":"21"},{"i":326,"d":"28"},{"i":331,"d":"4"},{"i":336,"d":"11"},{"i":341,"d":"18"},{"i":346,"d":"25"},{"i":350,"d":"1"},{"i":355,"d":"8"},{"i":360,"d":"15"},{"i":365,"d":"22"}
],
"months":[
{"i":13,"m":"May"},{"i":35,"m":"June"},{"i":55,"m":"July"},{"i":78,"m":"August"},{"i":99,"m":"September"},{"i":120,"m":"October"},{"i":144,"m":"November"},{"i":164,"m":"December"},{"i":182,"m":"2025"},{"i":204,"m":"February"},{"i":224,"m":"March"},{"i":245,"m":"April"},{"i":266,"m":"May"},{"i":286,"m":"June"},{"i":307,"m":"July"},{"i":329,"m":"August"},{"i":350,"m":"September"}
],
"box":[{"i1":99.7,"i2":185.5,"p1":18.82,"p2":16.75}],
"notes":[
{"i":99.9,"p":18.6,"t":"White candle con scambi in aumento leggero per Unipol"},
{"i":99.9,"p":18.185,"t":"che si ferma sui 17,65 proprio in resistenza."},
{"i":99.9,"p":17.78,"t":"Prepara il buy per lunedì e dovremo seguirla in apertura"},
{"i":99.9,"p":17.38,"t":"prendendoci un rischio al buio in caso di apertura e"},
{"i":99.9,"p":16.965,"t":"continuazione."}
],
"header":[{"i":159,"p":19.44,"t":"UNIPOL (17.4950, 17.6500, 17.4550, 17.6500, +0,25000)"}]
},
"vconcat":[
{
"width":1851,"height":587,
"encoding":{"x":{"field":"i","type":"quantitative"}},
"layer":[
{"data":{"name":"bars"},"mark":{"type":"rule","stroke":"black","strokeWidth":1},
"encoding":{
"x":{"field":"i","type":"quantitative","scale":{"domain":[-0.4644,370.84],"nice":false,"zero":false},
"axis":{"title":null,"values":[1,6,11,15,20,25,30,35,40,45,50,55,60,65,70,75,80,85,89,94,99,104,109,114,119,124,129,134,139,144,149,154,159,164,169,174,179,184,189,194,199,204,209,214,219,224,229,234,239,244,249,254,258,262,266,271,276,281,286,291,296,301,306,311,316,321,326,331,336,341,346,350,355,360,365],"grid":true,"gridColor":"#bbbbbb","gridDash":[4,4],"gridWidth":1,"labels":false,"ticks":false,"domain":false}},
"y":{"field":"l","type":"quantitative","scale":{"domain":[6.83,19.617],"nice":false,"zero":false},
"axis":{"title":null,"orient":"right","grid":false,"values":[7,7.5,8,8.5,9,9.5,10,10.5,11,11.5,12,12.5,13,13.5,14,14.5,15,15.5,16,16.5,17,17.5,18,18.5,19,19.5],"domainColor":"black","tickColor":"black","tickSize":6,"labels":false}},
"y2":{"field":"h"}}},
{"data":{"name":"bars"},"mark":{"type":"bar","size":3,"stroke":"black","strokeWidth":1},
"encoding":{
"y":{"field":"o","type":"quantitative"},
"y2":{"field":"c"},
"fill":{"condition":{"test":"datum.c>=datum.o","value":"white"},"value":"black"}}},
{"data":{"name":"lines"},"transform":[{"filter":"datum.kind=='black'"}],"mark":{"type":"rule","stroke":"black","strokeWidth":1},
"encoding":{"x":{"field":"i1","type":"quantitative"},"x2":{"field":"i2"},"y":{"field":"p1","type":"quantitative"},"y2":{"field":"p2"}}},
{"data":{"name":"lines"},"transform":[{"filter":"datum.kind=='reddash'"}],"mark":{"type":"rule","stroke":"#ff0000","strokeWidth":1,"strokeDash":[4,3]},
"encoding":{"x":{"field":"i1","type":"quantitative"},"x2":{"field":"i2"},"y":{"field":"p1","type":"quantitative"},"y2":{"field":"p2"}}},
{"data":{"name":"lines"},"transform":[{"filter":"datum.kind=='bluethick'"}],"mark":{"type":"rule","stroke":"#0000ff","strokeWidth":2},
"encoding":{"x":{"field":"i1","type":"quantitative"},"x2":{"field":"i2"},"y":{"field":"p1","type":"quantitative"},"y2":{"field":"p2"}}},
{"data":{"name":"lines"},"transform":[{"filter":"datum.kind=='bluedash'"}],"mark":{"type":"rule","stroke":"#0000ff","strokeWidth":1,"strokeDash":[18,7]},
"encoding":{"x":{"field":"i1","type":"quantitative"},"x2":{"field":"i2"},"y":{"field":"p1","type":"quantitative"},"y2":{"field":"p2"}}},
{"data":{"name":"lines"},"transform":[{"filter":"datum.kind=='greenthick'"}],"mark":{"type":"rule","stroke":"#0c960c","strokeWidth":2.5},
"encoding":{"x":{"field":"i1","type":"quantitative"},"x2":{"field":"i2"},"y":{"field":"p1","type":"quantitative"},"y2":{"field":"p2"}}},
{"data":{"name":"lines"},"transform":[{"filter":"datum.kind=='greenthin'"}],"mark":{"type":"rule","stroke":"#3cb371","strokeWidth":1},
"encoding":{"x":{"field":"i1","type":"quantitative"},"x2":{"field":"i2"},"y":{"field":"p1","type":"quantitative"},"y2":{"field":"p2"}}},
{"data":{"values":[19.4,19.3,19.2,19.1,18.9,18.8,18.7,18.6,18.4,18.3,18.2,18.1,17.9,17.8,17.7,17.6,17.4,17.3,17.2,17.1,16.9,16.8,16.7,16.6,16.4,16.3,16.2,16.1,15.9,15.8,15.7,15.6,15.4,15.3,15.2,15.1,14.9,14.8,14.7,14.6,14.4,14.3,14.2,14.1,13.9,13.8,13.7,13.6,13.4,13.3,13.2,13.1,12.9,12.8,12.7,12.6,12.4,12.3,12.2,12.1,11.9,11.8,11.7,11.6,11.4,11.3,11.2,11.1,10.9,10.8,10.7,10.6,10.4,10.3,10.2,10.1,9.9,9.8,9.7,9.6,9.4,9.3,9.2,9.1,8.9,8.8,8.7,8.6,8.4,8.3,8.2,8.1,7.9,7.8,7.7,7.6,7.4,7.3,7.2,7.1,6.9]},
"mark":{"type":"rule","stroke":"black","strokeWidth":1,"clip":false},
"encoding":{"x":{"datum":370.84,"type":"quantitative"},"x2":{"datum":371.3},"y":{"field":"data","type":"quantitative"}}},
{"data":{"name":"pricelabels"},
"mark":{"type":"text","align":"right","baseline":"middle","dy":1,"fontSize":11,"color":"#222222","clip":false},
"encoding":{"x":{"field":"i","type":"quantitative"},"y":{"field":"p","type":"quantitative"},"text":{"field":"t"}}},
{"data":{"values":[{"y":6.83}]},"mark":{"type":"rule","stroke":"black","strokeWidth":1.5},
"encoding":{"y":{"field":"y","type":"quantitative"},"x":{"value":0},"x2":{"value":1851}}},
{"data":{"name":"box"},"mark":{"type":"rect","fill":"#ecfdec","stroke":"black","strokeWidth":2},
"encoding":{"x":{"field":"i1","type":"quantitative"},"x2":{"field":"i2"},"y":{"field":"p1","type":"quantitative"},"y2":{"field":"p2"}}},
{"data":{"name":"notes"},"mark":{"type":"text","align":"left","baseline":"middle","fontWeight":"bold","fontSize":15.7,"font":"Liberation Sans","color":"black"},
"encoding":{"y":{"field":"p","type":"quantitative"},"text":{"field":"t"}}},
{"data":{"name":"header"},"mark":{"type":"text","align":"left","baseline":"middle","fontSize":10,"font":"Liberation Sans","color":"#222222"},
"encoding":{"y":{"field":"p","type":"quantitative"},"text":{"field":"t"}}}
]},
{
"width":1851,"height":290,
"data":{"name":"bars"},
"layer":[
{"mark":{"type":"rule","stroke":"#0000ff","strokeWidth":1},
"encoding":{
"x":{"field":"i","type":"quantitative","scale":{"domain":[-0.4644,370.84],"nice":false,"zero":false},
"axis":{"title":null,"values":[1,6,11,15,20,25,30,35,40,45,50,55,60,65,70,75,80,85,89,94,99,104,109,114,119,124,129,134,139,144,149,154,159,164,169,174,179,184,189,194,199,204,209,214,219,224,229,234,239,244,249,254,258,262,266,271,276,281,286,291,296,301,306,311,316,321,326,331,336,341,346,350,355,360,365],"grid":true,"gridColor":"#bbbbbb","gridDash":[4,4],"gridWidth":1,"labels":false,"ticks":false,"domain":false}},
"y":{"field":"v","type":"quantitative","scale":{"domain":[0,43830],"nice":false,"zero":false},
"axis":{"title":null,"orient":"right","grid":false,"values":[5000,10000,15000,20000,25000,30000,35000,40000],"format":"d","domainColor":"black","tickColor":"black","tickSize":6,"labelAlign":"right","labelPadding":32,"labelFontSize":11,"labelColor":"#222222","labelOverlap":false,"labelBound":false,"labelFlush":false,"labelOffset":1}},
"y2":{"datum":0}}},
{"data":{"values":[{"y":37600},{"y":6200}]},"mark":{"type":"rule","stroke":"#0000ff","strokeWidth":1.2},
"encoding":{"y":{"field":"y","type":"quantitative"}}},
{"mark":{"type":"line","stroke":"#ff0000","strokeWidth":1.2,"interpolate":"linear"},
"encoding":{"x":{"field":"i","type":"quantitative"},"y":{"field":"r","type":"quantitative"}}},
{"data":{"values":[{"i":371.8,"y":1000,"t":"[1000]"}]},"mark":{"type":"text","align":"left","baseline":"middle","fontSize":8,"color":"#222222","clip":false},
"encoding":{"x":{"field":"i","type":"quantitative"},"y":{"field":"y","type":"quantitative"},"text":{"field":"t"}}}
]},
{
"width":1851,"height":25,
"layer":[
{"data":{"values":[{"y":2},{"y":1}]},"mark":{"type":"rule","stroke":"black","strokeWidth":1},
"encoding":{"y":{"field":"y","type":"quantitative","scale":{"domain":[0,2],"nice":false,"zero":false},"axis":null}}},
{"data":{"name":"weeks"},"mark":{"type":"rule","stroke":"black","strokeWidth":1},
"encoding":{"x":{"field":"i","type":"quantitative","scale":{"domain":[-0.4644,370.84],"nice":false,"zero":false},"axis":null},"y":{"datum":2,"type":"quantitative","axis":null},"y2":{"datum":1}}},
{"data":{"name":"weeks"},"mark":{"type":"text","align":"left","baseline":"middle","dx":3,"fontSize":11,"color":"#222222"},
"encoding":{"x":{"field":"i","type":"quantitative","axis":null},"y":{"datum":1.5,"type":"quantitative","axis":null},"text":{"field":"d"}}},
{"data":{"name":"months"},"mark":{"type":"rule","stroke":"black","strokeWidth":1},
"encoding":{"x":{"field":"i","type":"quantitative","axis":null},"y":{"datum":1,"type":"quantitative","axis":null},"y2":{"datum":0}}},
{"data":{"name":"months"},"mark":{"type":"text","align":"left","baseline":"middle","dx":2,"fontSize":11,"color":"#222222"},
"encoding":{"x":{"field":"i","type":"quantitative","axis":null},"y":{"datum":0.5,"type":"quantitative","axis":null},"text":{"field":"m"}}}
]}
]
}
